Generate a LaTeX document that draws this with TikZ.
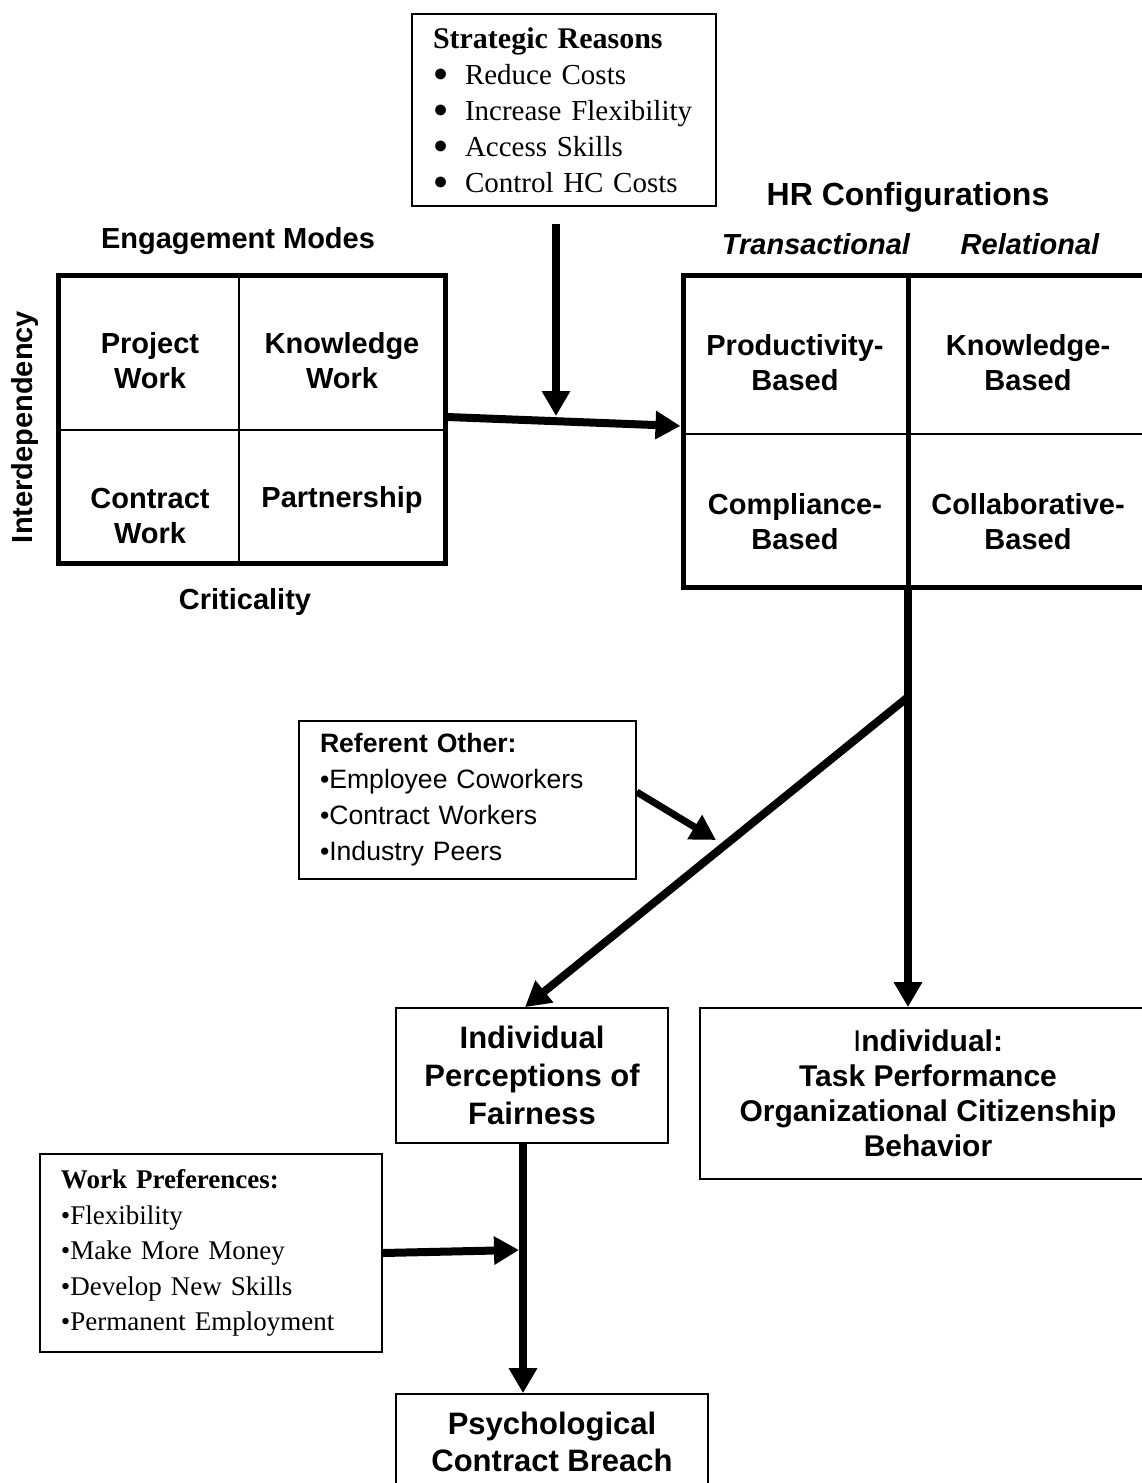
\documentclass[tikz,border=0pt]{standalone}
\usepackage{fontspec}
\setmainfont{Liberation Serif}
\setsansfont{Liberation Sans}
\usetikzlibrary{arrows.meta}
\newcommand{\listdot}{\makebox[16pt][l]{\raisebox{1.2pt}{\fontsize{12.5}{12}\selectfont ●}}}

\begin{document}
\begin{tikzpicture}[x=0.5pt,y=-0.5pt,
  grid/.style={draw,line width=2.5pt,inner sep=0pt},
  cell/.style={font=\sffamily\bfseries\fontsize{14.5}{17.5}\selectfont,align=center},
  head/.style={font=\sffamily\bfseries\fontsize{14.5}{17.5}\selectfont},
  lbox/.style={draw,line width=0.75pt,align=left,inner xsep=10.5pt},
  obox/.style={draw,line width=0.9pt,align=center,font=\sffamily\bfseries\fontsize{15.5}{19}\selectfont},
  arr/.style={-{Triangle[length=12.5pt,width=13.5pt]},line width=4pt}]
  \useasboundingbox (0,0) rectangle (1141,1483);
  % strategic reasons
  \node[lbox,minimum height=96pt,text width=131pt,font=\fontsize{14.5}{18}\selectfont] (strat) at (564,110)
    {{\fontsize{15}{18}\selectfont\textbf{Strategic Reasons}}\\\listdot Reduce Costs\\\listdot Increase Flexibility\\\listdot Access Skills\\\listdot Control HC Costs};
  % engagement modes grid
  \node[head] (engt) at (238,241) {Engagement Modes};
  \node[grid,minimum width=193.5pt,minimum height=144pt] (eng) at (251.5,419) {};
  \draw[line width=1pt] (239,275) -- (239,563) (58,430) -- (445,430);
  \node[cell] (pw) at (150,361) {Project\\Work};
  \node[cell] (kw) at (342,361) {Knowledge\\Work};
  \node[cell] (cw) at (150,516) {Contract\\Work};
  \node[cell] (pa) at (342,500) {Partnership};
  \node[head,rotate=90] (intd) at (25,427) {Interdependency};
  \node[head] (crit) at (245,602) {Criticality};
  % HR configurations grid
  \node[head,font=\sffamily\bfseries\fontsize{16}{19}\selectfont] (hrt) at (908,197) {HR Configurations};
  \node[head,font=\sffamily\bfseries\itshape\fontsize{14.5}{17.5}\selectfont] (trans) at (816,244) {Transactional};
  \node[head,font=\sffamily\bfseries\itshape\fontsize{14.5}{17.5}\selectfont] (rel) at (1030,244) {Relational};
  \node[grid,minimum width=233.5pt,minimum height=156pt] (hr) at (916.5,431) {};
  \draw[line width=1pt] (683,434) -- (1150,434);
  \draw[line width=2.5pt] (908,275) -- (908,587);
  \node[cell] (prod) at (795,363) {Productivity-\\Based};
  \node[cell] (know) at (1028,363) {Knowledge-\\Based};
  \node[cell] (comp) at (795,522) {Compliance-\\Based};
  \node[cell] (coll) at (1028,522) {Collaborative-\\Based};
  % referent other
  \node[lbox,minimum height=79pt,text width=147.5pt,font=\sffamily\fontsize{13.3}{18}\selectfont] (ref) at (467.5,800)
    {\textbf{Referent Other:}\\\textbullet Employee Coworkers\\\textbullet Contract Workers\\\textbullet Industry Peers};
  % outcomes
  \node[obox,minimum width=136pt,minimum height=67.5pt] (fair) at (532,1075.5) {Individual\\Perceptions of\\Fairness};
  \node[obox,minimum width=228pt,minimum height=85.5pt,font=\sffamily\bfseries\fontsize{15}{17.5}\selectfont] (indiv) at (928,1093.5)
    {{\mdseries I}ndividual:\\Task Performance\\Organizational Citizenship\\Behavior};
  \node[lbox,minimum height=99pt,text width=150pt,font=\fontsize{13.5}{17.75}\selectfont] (pref) at (211,1253)
    {\textbf{Work Preferences:}\\\textbullet Flexibility\\\textbullet Make More Money\\\textbullet Develop New Skills\\\textbullet Permanent Employment};
  \node[obox,minimum width=156pt,minimum height=48pt,font=\sffamily\bfseries\fontsize{15.5}{18.5}\selectfont] (psy) at (552,1442)
    {Psychological\\Contract Breach};
  % connectors
  \coordinate (srtop) at (556,224);
  \coordinate (join) at (556,416);
  \coordinate (split) at (908,697);
  \coordinate (refhit) at (716,840);
  \coordinate (prefhit) at (519,1250);
  \path ([xshift=-4.5pt]fair.south) coordinate (fv);
  \draw[arr] (srtop) -- (join);
  \draw[arr] ([yshift=1pt]eng.east) -- ([yshift=2.5pt]hr.west);
  \draw[arr] (split |- hr.south) -- (split |- indiv.north);
  \draw[arr] (split) -- ([xshift=-3.5pt]fair.north);
  \draw[arr,line width=3.5pt] ([yshift=4pt]ref.east) -- (refhit);
  \draw[arr] (fv) -- (fv |- psy.north);
  \draw[arr] (pref.east) -- (prefhit);
\end{tikzpicture}
\end{document}
